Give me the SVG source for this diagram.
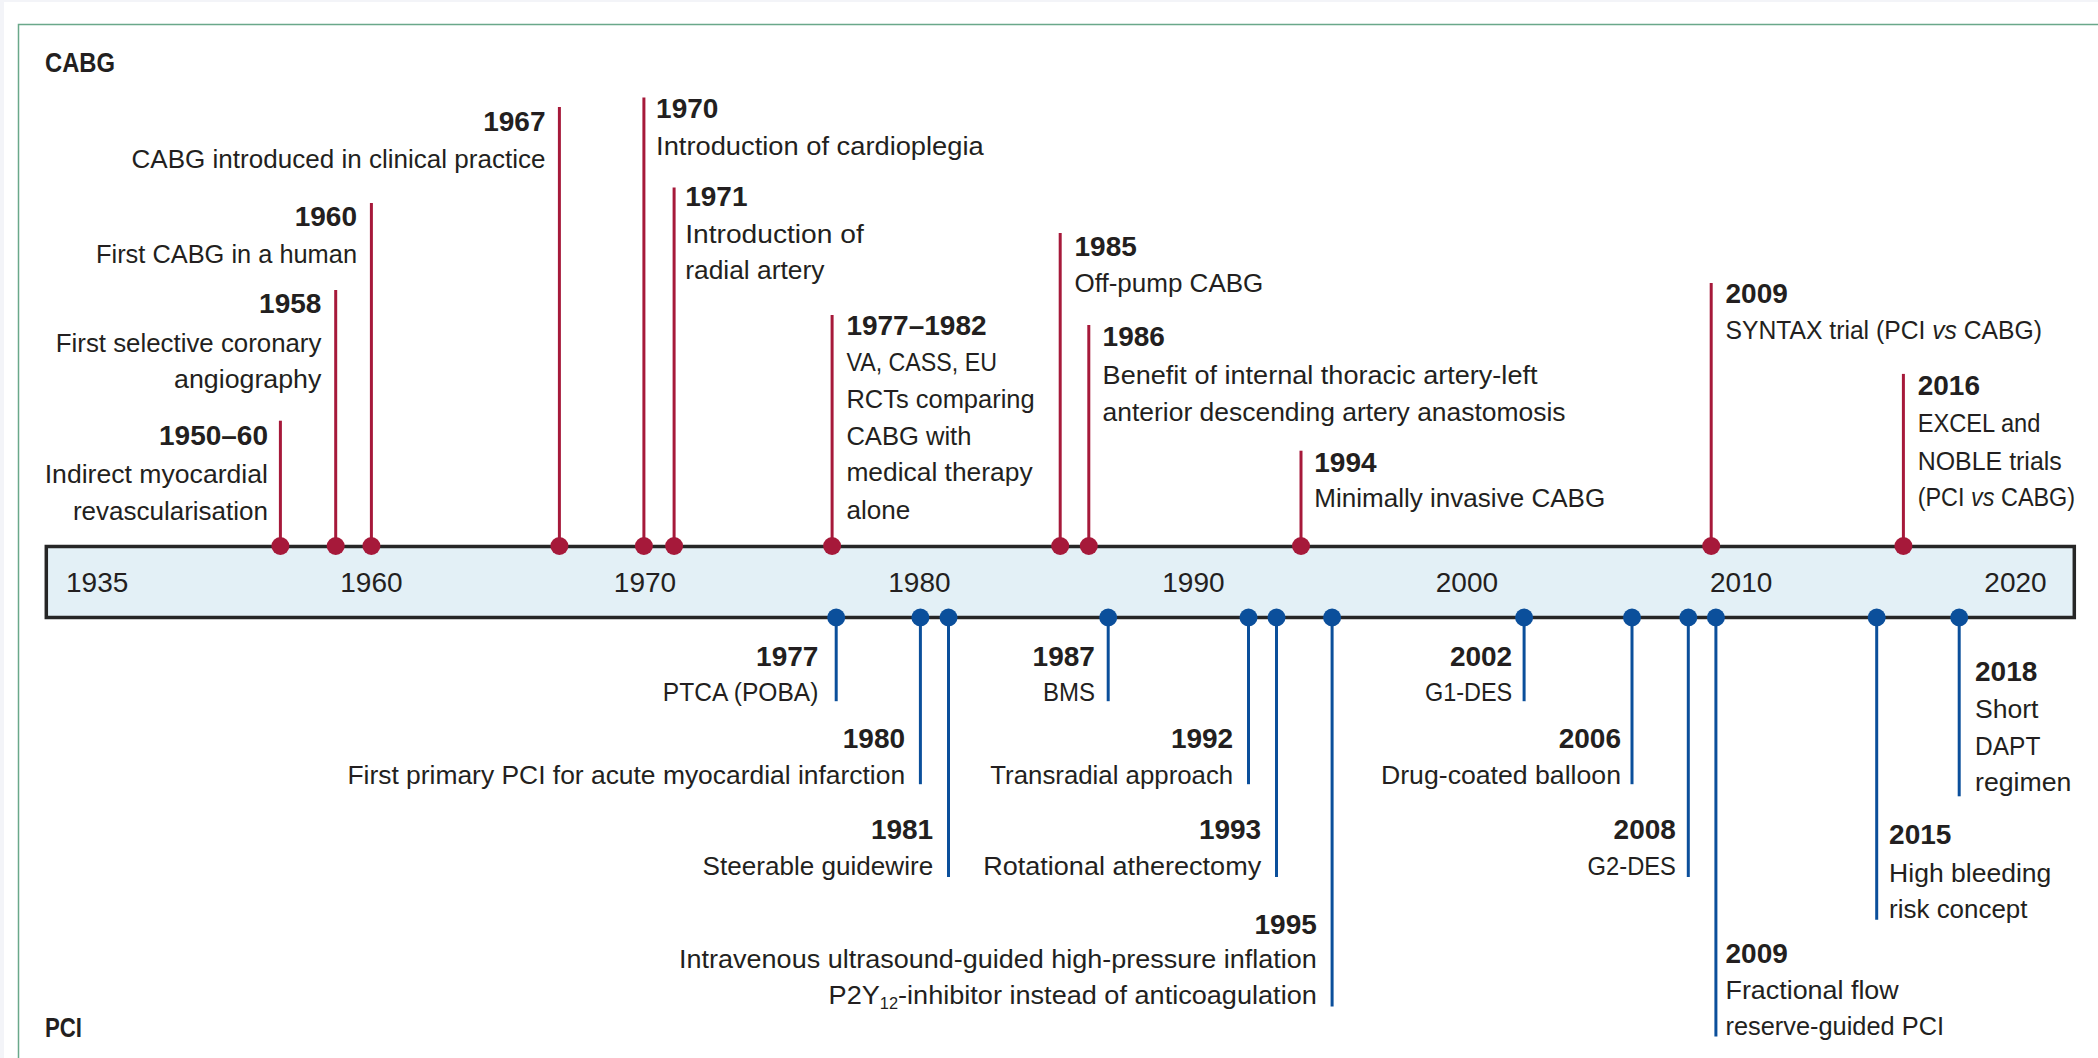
<svg xmlns="http://www.w3.org/2000/svg" width="2098" height="1058" viewBox="0 0 2098 1058">
<style>
text{font-family:"Liberation Sans",Arial,sans-serif;font-size:26.5px;fill:#231f20}
.y{font-weight:bold;font-size:28px}
.h{font-weight:bold;font-size:27px}
.ax{font-size:28px}
.e{text-anchor:end}
.m{text-anchor:middle}
.i{font-style:italic}
.red{stroke:#a6193a;stroke-width:3}
.blue{stroke:#0b4f9b;stroke-width:3}
.rd{fill:#a6193a}
.bd{fill:#0b4f9b}
</style>
<rect x="0" y="0" width="2098" height="1058" fill="#f3f4f8"/>
<rect x="4" y="2" width="2094" height="1056" fill="#ffffff"/>
<rect x="18.5" y="24.5" width="2100" height="1100" fill="none" stroke="#6aa88a" stroke-width="1.5"/>

<g id="heading-cabg"><text class="h" x="45" y="71.5" textLength="70" lengthAdjust="spacingAndGlyphs">CABG</text></g>
<g id="heading-pci"><text class="h" x="45" y="1036.5" textLength="37" lengthAdjust="spacingAndGlyphs">PCI</text></g>

<g id="timeline-bar">
<rect x="46.3" y="546.5" width="2028" height="71" fill="#e3f0f6" stroke="#262626" stroke-width="3.5"/>
<text class="ax" x="66" y="592">1935</text>
<text class="ax m" x="371.4" y="592">1960</text>
<text class="ax m" x="645" y="592">1970</text>
<text class="ax m" x="919.4" y="592">1980</text>
<text class="ax m" x="1193.4" y="592">1990</text>
<text class="ax m" x="1466.9" y="592">2000</text>
<text class="ax m" x="1741.2" y="592">2010</text>
<text class="ax m" x="2015.5" y="592">2020</text>
</g>

<g id="connectors">
<line class="red" x1="280.4" y1="420.7" x2="280.4" y2="546"/>
<line class="red" x1="335.7" y1="290" x2="335.7" y2="546"/>
<line class="red" x1="371.4" y1="202.9" x2="371.4" y2="546"/>
<line class="red" x1="559.4" y1="107.1" x2="559.4" y2="546"/>
<line class="red" x1="643.9" y1="97.5" x2="643.9" y2="546"/>
<line class="red" x1="674.1" y1="187.5" x2="674.1" y2="546"/>
<line class="red" x1="832.1" y1="315" x2="832.1" y2="546"/>
<line class="red" x1="1060.2" y1="232.9" x2="1060.2" y2="546"/>
<line class="red" x1="1088.8" y1="325" x2="1088.8" y2="546"/>
<line class="red" x1="1301" y1="450.7" x2="1301" y2="546"/>
<line class="red" x1="1711.2" y1="282.9" x2="1711.2" y2="546"/>
<line class="red" x1="1903.4" y1="373.9" x2="1903.4" y2="546"/>
<circle class="rd" cx="280.4" cy="546" r="9"/>
<circle class="rd" cx="335.7" cy="546" r="9"/>
<circle class="rd" cx="371.4" cy="546" r="9"/>
<circle class="rd" cx="559.4" cy="546" r="9"/>
<circle class="rd" cx="643.9" cy="546" r="9"/>
<circle class="rd" cx="674.1" cy="546" r="9"/>
<circle class="rd" cx="832.1" cy="546" r="9"/>
<circle class="rd" cx="1060.2" cy="546" r="9"/>
<circle class="rd" cx="1088.8" cy="546" r="9"/>
<circle class="rd" cx="1301" cy="546" r="9"/>
<circle class="rd" cx="1711.2" cy="546" r="9"/>
<circle class="rd" cx="1903.4" cy="546" r="9"/>

<line class="blue" x1="836.2" y1="617.5" x2="836.2" y2="701.2"/>
<line class="blue" x1="920.4" y1="617.5" x2="920.4" y2="784.2"/>
<line class="blue" x1="948.5" y1="617.5" x2="948.5" y2="876.9"/>
<line class="blue" x1="1108.2" y1="617.5" x2="1108.2" y2="701.2"/>
<line class="blue" x1="1248.5" y1="617.5" x2="1248.5" y2="784.2"/>
<line class="blue" x1="1276.5" y1="617.5" x2="1276.5" y2="876.9"/>
<line class="blue" x1="1332.1" y1="617.5" x2="1332.1" y2="1006.6"/>
<line class="blue" x1="1524.1" y1="617.5" x2="1524.1" y2="701.2"/>
<line class="blue" x1="1632" y1="617.5" x2="1632" y2="784.2"/>
<line class="blue" x1="1688.3" y1="617.5" x2="1688.3" y2="876.9"/>
<line class="blue" x1="1715.9" y1="617.5" x2="1715.9" y2="1036.5"/>
<line class="blue" x1="1876.7" y1="617.5" x2="1876.7" y2="919.8"/>
<line class="blue" x1="1959.2" y1="617.5" x2="1959.2" y2="796.3"/>
<circle class="bd" cx="836.2" cy="617.5" r="9"/>
<circle class="bd" cx="920.4" cy="617.5" r="9"/>
<circle class="bd" cx="948.5" cy="617.5" r="9"/>
<circle class="bd" cx="1108.2" cy="617.5" r="9"/>
<circle class="bd" cx="1248.5" cy="617.5" r="9"/>
<circle class="bd" cx="1276.5" cy="617.5" r="9"/>
<circle class="bd" cx="1332.1" cy="617.5" r="9"/>
<circle class="bd" cx="1524.1" cy="617.5" r="9"/>
<circle class="bd" cx="1632" cy="617.5" r="9"/>
<circle class="bd" cx="1688.3" cy="617.5" r="9"/>
<circle class="bd" cx="1715.9" cy="617.5" r="9"/>
<circle class="bd" cx="1876.7" cy="617.5" r="9"/>
<circle class="bd" cx="1959.2" cy="617.5" r="9"/>
</g>

<g id="cabg-1950">
<text class="y e" x="268" y="445.4">1950–60</text>
<text class="e" x="268" y="482.9" textLength="223.3" lengthAdjust="spacingAndGlyphs">Indirect myocardial</text>
<text class="e" x="268" y="519.6" textLength="195.1" lengthAdjust="spacingAndGlyphs">revascularisation</text>
</g>
<g id="cabg-1958">
<text class="y e" x="321.4" y="313.2">1958</text>
<text class="e" x="321.4" y="351.8" textLength="265.6" lengthAdjust="spacingAndGlyphs">First selective coronary</text>
<text class="e" x="321.4" y="387.5" textLength="147.3" lengthAdjust="spacingAndGlyphs">angiography</text>
</g>
<g id="cabg-1960">
<text class="y e" x="357" y="225.7">1960</text>
<text class="e" x="357" y="262.5" textLength="261" lengthAdjust="spacingAndGlyphs">First CABG in a human</text>
</g>
<g id="cabg-1967">
<text class="y e" x="545.5" y="131.4">1967</text>
<text class="e" x="545.5" y="167.9" textLength="414" lengthAdjust="spacingAndGlyphs">CABG introduced in clinical practice</text>
</g>
<g id="cabg-1970">
<text class="y" x="656.1" y="117.9">1970</text>
<text x="656.1" y="155.4" textLength="327.6" lengthAdjust="spacingAndGlyphs">Introduction of cardioplegia</text>
</g>
<g id="cabg-1971">
<text class="y" x="685.2" y="206.4">1971</text>
<text x="685.2" y="242.9" textLength="178.6" lengthAdjust="spacingAndGlyphs">Introduction of</text>
<text x="685.2" y="278.6" textLength="139.3" lengthAdjust="spacingAndGlyphs">radial artery</text>
</g>
<g id="cabg-1977">
<text class="y" x="846.4" y="334.6">1977–1982</text>
<text x="846.4" y="371.4" textLength="150.5" lengthAdjust="spacingAndGlyphs">VA, CASS, EU</text>
<text x="846.4" y="408.2" textLength="188.3" lengthAdjust="spacingAndGlyphs">RCTs comparing</text>
<text x="846.4" y="444.6" textLength="125" lengthAdjust="spacingAndGlyphs">CABG with</text>
<text x="846.4" y="481" textLength="186.2" lengthAdjust="spacingAndGlyphs">medical therapy</text>
<text x="846.4" y="518.6" textLength="63.8" lengthAdjust="spacingAndGlyphs">alone</text>
</g>
<g id="cabg-1985">
<text class="y" x="1074.5" y="256.4">1985</text>
<text x="1074.5" y="292.1" textLength="188.8" lengthAdjust="spacingAndGlyphs">Off-pump CABG</text>
</g>
<g id="cabg-1986">
<text class="y" x="1102.6" y="346.4">1986</text>
<text x="1102.6" y="383.9" textLength="434.9" lengthAdjust="spacingAndGlyphs">Benefit of internal thoracic artery-left</text>
<text x="1102.6" y="420.7" textLength="463" lengthAdjust="spacingAndGlyphs">anterior descending artery anastomosis</text>
</g>
<g id="cabg-1994">
<text class="y" x="1314.3" y="472.1">1994</text>
<text x="1314.3" y="507.1" textLength="290.9" lengthAdjust="spacingAndGlyphs">Minimally invasive CABG</text>
</g>
<g id="cabg-2009">
<text class="y" x="1725.5" y="302.9">2009</text>
<text transform="translate(1725.5 339.3) scale(0.932 1)" x="0" y="0">SYNTAX trial (PCI <tspan class="i">vs</tspan> CABG)</text>
</g>
<g id="cabg-2016">
<text class="y" x="1917.7" y="395.4">2016</text>
<text x="1917.7" y="432.1" textLength="122.7" lengthAdjust="spacingAndGlyphs">EXCEL and</text>
<text x="1917.7" y="469.6" textLength="144.1" lengthAdjust="spacingAndGlyphs">NOBLE trials</text>
<text transform="translate(1917.7 506.4) scale(0.884 1)" x="0" y="0">(PCI <tspan class="i">vs</tspan> CABG)</text>
</g>

<g id="pci-1977">
<text class="y e" x="818.4" y="665.8">1977</text>
<text class="e" x="818.4" y="701.2" textLength="155.6" lengthAdjust="spacingAndGlyphs">PTCA (POBA)</text>
</g>
<g id="pci-1980">
<text class="y e" x="905.1" y="747.5">1980</text>
<text class="e" x="905.1" y="783.6" textLength="557.7" lengthAdjust="spacingAndGlyphs">First primary PCI for acute myocardial infarction</text>
</g>
<g id="pci-1981">
<text class="y e" x="933.2" y="839.1">1981</text>
<text class="e" x="933.2" y="875.2" textLength="230.6" lengthAdjust="spacingAndGlyphs">Steerable guidewire</text>
</g>
<g id="pci-1987">
<text class="y e" x="1094.9" y="665.8">1987</text>
<text class="e" x="1094.9" y="701.2" textLength="52" lengthAdjust="spacingAndGlyphs">BMS</text>
</g>
<g id="pci-1992">
<text class="y e" x="1233.2" y="747.5">1992</text>
<text class="e" x="1233.2" y="783.6" textLength="242.9" lengthAdjust="spacingAndGlyphs">Transradial approach</text>
</g>
<g id="pci-1993">
<text class="y e" x="1261.2" y="839.1">1993</text>
<text class="e" x="1261.2" y="875.2" textLength="278" lengthAdjust="spacingAndGlyphs">Rotational atherectomy</text>
</g>
<g id="pci-1995">
<text class="y e" x="1316.8" y="933.5">1995</text>
<text class="e" x="1316.8" y="967.8" textLength="637.7" lengthAdjust="spacingAndGlyphs">Intravenous ultrasound-guided high-pressure inflation</text>
<text class="e" x="1316.8" y="1003.9" textLength="488.2" lengthAdjust="spacingAndGlyphs">P2Y<tspan font-size="16" dy="5">12</tspan><tspan dy="-5">-inhibitor instead of anticoagulation</tspan></text>
</g>
<g id="pci-2002">
<text class="y e" x="1512.2" y="665.8">2002</text>
<text class="e" x="1512.2" y="701.2" textLength="87.3" lengthAdjust="spacingAndGlyphs">G1-DES</text>
</g>
<g id="pci-2006">
<text class="y e" x="1621" y="747.5">2006</text>
<text class="e" x="1621" y="783.6" textLength="240" lengthAdjust="spacingAndGlyphs">Drug-coated balloon</text>
</g>
<g id="pci-2008">
<text class="y e" x="1675.9" y="839.1">2008</text>
<text class="e" x="1675.9" y="875.2" textLength="88.3" lengthAdjust="spacingAndGlyphs">G2-DES</text>
</g>
<g id="pci-2009">
<text class="y" x="1725.5" y="962.7">2009</text>
<text x="1725.5" y="998.7" textLength="173.2" lengthAdjust="spacingAndGlyphs">Fractional flow</text>
<text x="1725.5" y="1034.8" textLength="218.5" lengthAdjust="spacingAndGlyphs">reserve-guided PCI</text>
</g>
<g id="pci-2015">
<text class="y" x="1889.1" y="844.3">2015</text>
<text x="1889.1" y="882" textLength="162.2" lengthAdjust="spacingAndGlyphs">High bleeding</text>
<text x="1889.1" y="918.1" textLength="138.4" lengthAdjust="spacingAndGlyphs">risk concept</text>
</g>
<g id="pci-2018">
<text class="y" x="1975" y="681.3">2018</text>
<text x="1975" y="718.4" textLength="63.5" lengthAdjust="spacingAndGlyphs">Short</text>
<text x="1975" y="755.1" textLength="65.4" lengthAdjust="spacingAndGlyphs">DAPT</text>
<text x="1975" y="791.1" textLength="96.4" lengthAdjust="spacingAndGlyphs">regimen</text>
</g>
</svg>
